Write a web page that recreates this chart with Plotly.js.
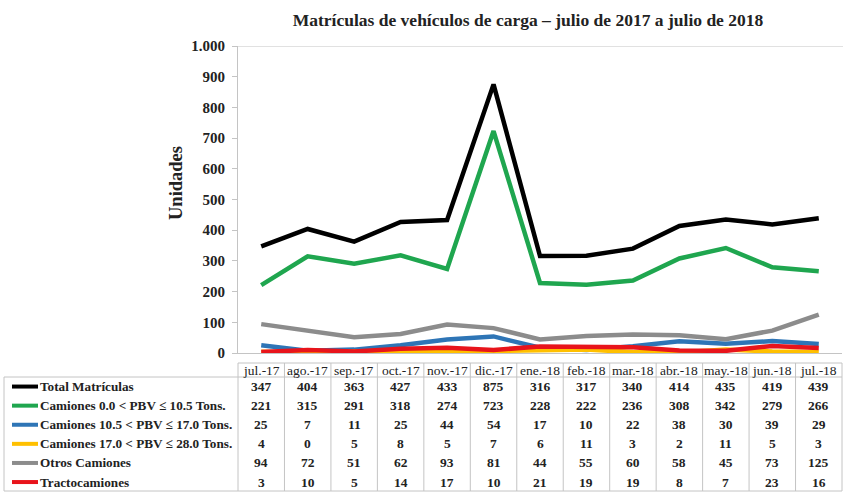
<!DOCTYPE html>
<html>
<head>
<meta charset="utf-8">
<script src="https://cdn.plot.ly/plotly-3.0.1.min.js"></script>
<style>html,body{margin:0;padding:0;background:#fff;}#chart{width:843px;height:492px;}</style>
</head>
<body>
<div id="chart"></div>
<script>
// ---- data ----
const months = ["jul.-17","ago.-17","sep.-17","oct.-17","nov.-17","dic.-17","ene.-18","feb.-18","mar.-18","abr.-18","may.-18","jun.-18","jul.-18"];
const seriesNames = ["Total Matrículas","Camiones 0.0 < PBV ≤ 10.5 Tons.","Camiones 10.5 < PBV ≤ 17.0 Tons.","Camiones 17.0 < PBV ≤ 28.0 Tons.","Otros Camiones","Tractocamiones"];
const totalMatriculas = [347,404,363,427,433,875,316,317,340,414,435,419,439];
const camiones0_105 = [221,315,291,318,274,723,228,222,236,308,342,279,266];
const camiones105_17 = [25,7,11,25,44,54,17,10,22,38,30,39,29];
const camiones17_28 = [4,0,5,8,5,7,6,11,3,2,11,5,3];
const otrosCamiones = [94,72,51,62,93,81,44,55,60,58,45,73,125];
const tractocamiones = [3,10,5,14,17,10,21,19,19,8,7,23,16];
const yTickVals = [0,100,200,300,400,500,600,700,800,900,1000];
const yTickText = ["0","100","200","300","400","500","600","700","800","900","1.000"];

// ---- styling ----
const W = 843, H = 492;
const colors = ["#000000","#1fa64f","#2e75b6","#ffc000","#8c8c8c","#e8141b"];
const allSeries = [totalMatriculas, camiones0_105, camiones105_17, camiones17_28, otrosCamiones, tractocamiones];
const FONT = "Liberation Serif";
const gridCol = "#c4c4c4";
function px(x){ return x / W; }
function py(y){ return 1 - y / H; }

const plotL = 238, plotR = 842, plotT = 46, plotB = 353;
const headTop = 363, headBot = 377, rowH = 19.1, tableBot = 491;

const traces = allSeries.map((vals, i) => ({
  type: "scatter", mode: "lines", x: months, y: vals, name: seriesNames[i],
  line: {color: colors[i], width: 4.5}, showlegend: false, hoverinfo: "x+y+name"
}));

const shapes = [];
const annotations = [];
shapes.push({type:"line", xref:"paper", yref:"y", x0:px(plotL-5), x1:px(plotR+1), y0:1000, y1:1000, line:{color:gridCol, width:1}});
shapes.push({type:"line", xref:"paper", yref:"paper", x0:px(plotL), x1:px(plotR), y0:py(headTop), y1:py(headTop), line:{color:gridCol, width:1}});
shapes.push({type:"line", xref:"paper", yref:"paper", x0:px(4), x1:px(plotR), y0:py(headBot), y1:py(headBot), line:{color:gridCol, width:1}});
shapes.push({type:"line", xref:"paper", yref:"paper", x0:px(4), x1:px(4), y0:py(headBot), y1:py(tableBot), line:{color:gridCol, width:1}});
shapes.push({type:"line", xref:"paper", yref:"paper", x0:px(4), x1:px(plotR), y0:py(tableBot), y1:py(tableBot), line:{color:gridCol, width:1}});
const colW = (plotR - plotL) / months.length;
for (let k = 0; k <= months.length; k++) {
  const xx = plotL + k * colW;
  shapes.push({type:"line", xref:"paper", yref:"paper", x0:px(xx), x1:px(xx), y0:py(headTop), y1:py(tableBot), line:{color:gridCol, width:1}});
}
months.forEach(m => {
  annotations.push({xref:"x", yref:"paper", x:m, y:py((headTop+headBot)/2), text:m, showarrow:false,
    xanchor:"center", yanchor:"middle", font:{family:FONT, size:13.5, color:"#222"}});
});
seriesNames.forEach((nm, i) => {
  const cy = headBot + rowH * (i + 0.5);
  shapes.push({type:"line", xref:"paper", yref:"paper", x0:px(12), x1:px(38), y0:py(cy), y1:py(cy), line:{color:colors[i], width:4}});
  annotations.push({xref:"paper", yref:"paper", x:px(38), y:py(cy), text:nm, showarrow:false,
    xanchor:"left", yanchor:"middle", font:{family:FONT, size:13.2, color:"#222", weight:"bold"}});
  allSeries[i].forEach((v, j) => {
    annotations.push({xref:"x", yref:"paper", x:months[j], y:py(cy), text:String(v), showarrow:false,
      xanchor:"center", yanchor:"middle", font:{family:FONT, size:13.5, color:"#222", weight:"bold"}});
  });
});
annotations.push({xref:"paper", yref:"paper", x:px(176), y:py(183), text:"Unidades", textangle:-90, showarrow:false,
  xanchor:"center", yanchor:"middle", font:{family:FONT, size:18.5, color:"#222", weight:"bold"}});

const layout = {
  width: W, height: H,
  margin: {l:0, r:0, t:0, b:0},
  paper_bgcolor: "#fff", plot_bgcolor: "#fff",
  font: {family: FONT},
  title: {text:"Matrículas de vehículos de carga – julio de 2017 a julio de 2018", x: px(528), xanchor:"center", y: py(20), yanchor:"middle",
    font:{family:FONT, size:17.5, color:"#222", weight:"bold"}},
  xaxis: {type:"category", domain:[px(plotL), px(plotR)], range:[-0.5, months.length-0.5], showticklabels:false,
    showgrid:false, zeroline:false, showline:true, linecolor:gridCol, linewidth:1, ticks:"", fixedrange:true},
  yaxis: {domain:[py(plotB), py(plotT)], range:[0,1000], tickvals:yTickVals, ticktext:yTickText, showgrid:false, zeroline:false,
    showline:true, linecolor:gridCol, linewidth:1, ticks:"outside", ticklen:5, tickcolor:gridCol, ticklabelstandoff:4,
    tickfont:{family:FONT, size:15, color:"#222", weight:"bold"}, fixedrange:true},
  shapes: shapes,
  annotations: annotations,
  showlegend: false
};

Plotly.newPlot("chart", traces, layout, {displayModeBar:false});
</script>
</body>
</html>
